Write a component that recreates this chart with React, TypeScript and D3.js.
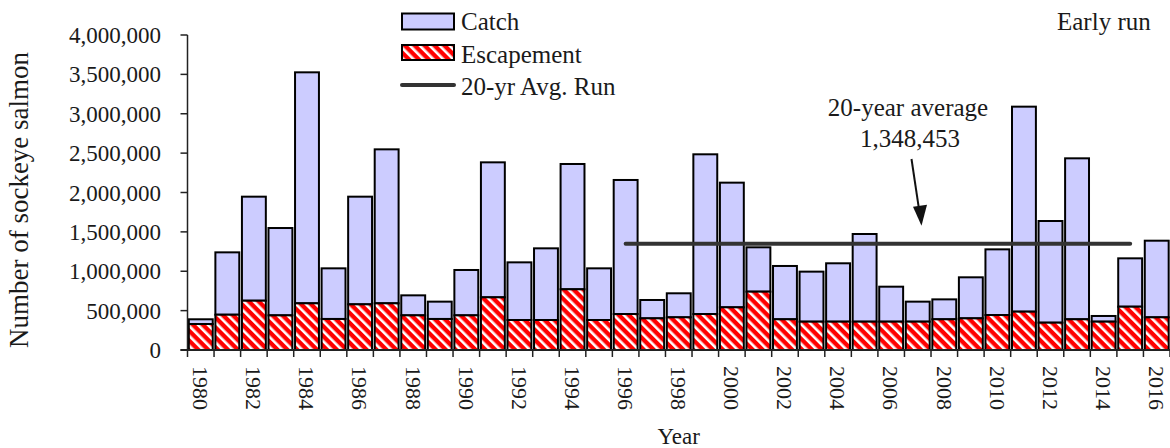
// ─── SockeyeRunChart ──────────────────────────────────────────────────────────
//
// Stacked bars of early-run sockeye escapement + catch, 1980–2016, with the
// 20-year average run drawn across 1996–2015. D3 does scales + drawing.

import { useRef, useEffect } from "react";
import * as d3 from "d3";

const years = d3.range(1980, 2017);

// values (fish counts)
const escapement = [
  330000, 448000, 626000, 440000, 593000, 394000, 580000, 593000, 440000, 394000,
  440000, 669000, 381000, 381000, 771000, 381000, 457000, 402000, 415000, 457000,
  542000, 741000, 390000, 360000, 360000, 360000, 360000, 360000, 390000, 402000,
  444000, 487000, 347000, 390000, 360000, 550000, 415000,
];

const catchValues = [
  60000, 792000, 1321000, 1109000, 2933000, 643000, 1367000, 1955000, 254000, 220000,
  576000, 1714000, 732000, 910000, 1591000, 656000, 1702000, 233000, 305000, 2028000,
  1583000, 563000, 677000, 635000, 741000, 1113000, 444000, 254000, 253000, 521000,
  834000, 2603000, 1291000, 2044000, 72000, 614000, 973000,
];

const yTicks = [0, 500000, 1000000, 1500000, 2000000, 2500000, 3000000, 3500000, 4000000];
const xTickYears = years.filter((y) => y % 2 === 0);

const avgRun = 1348453;
const avgYears = [1996, 2015];

const W = 1170;
const H = 448;
const PLOT = { left: 187.5, right: 1170, top: 35, bottom: 350 };
const FONT = "'Liberation Serif', 'Times New Roman', serif";
const TEXT = "#1a1a1a";

export default function App() {
  const svgRef = useRef<SVGSVGElement>(null);

  useEffect(() => {
    if (!svgRef.current) return;
    const svg = d3.select(svgRef.current);
    svg.selectAll("*").remove();

    // ── Scales ──────────────────────────────────────────────────────────────

    const x = d3
      .scaleBand<number>()
      .domain(years)
      .range([PLOT.left, PLOT.right])
      .paddingInner(0.1)
      .paddingOuter(0.05);

    const y = d3.scaleLinear().domain([0, 4000000]).range([PLOT.bottom, PLOT.top]);

    const step = x.step();
    const bw = x.bandwidth();

    // ── Hatch pattern ─────────────────────────────────────────────────────

    const defs = svg.append("defs");
    const pat = defs
      .append("pattern")
      .attr("id", "hatch")
      .attr("patternUnits", "userSpaceOnUse")
      .attr("width", 7)
      .attr("height", 7)
      .attr("patternTransform", "rotate(-45)");
    pat.append("rect").attr("width", 7).attr("height", 7).attr("fill", "#ff0000");
    pat.append("rect").attr("x", 0).attr("width", 2.6).attr("height", 7).attr("fill", "#ffffff");

    // ── Bars ──────────────────────────────────────────────────────────────

    const rows = years.map((yr, i) => ({
      year: yr,
      esc: escapement[i],
      total: escapement[i] + catchValues[i],
    }));

    svg
      .append("g")
      .selectAll("rect")
      .data(rows)
      .enter()
      .append("rect")
      .attr("x", (d) => x(d.year)!)
      .attr("y", (d) => y(d.total))
      .attr("width", bw)
      .attr("height", (d) => y(d.esc) - y(d.total))
      .attr("fill", "#ccccff")
      .attr("stroke", "#000")
      .attr("stroke-width", 2);

    svg
      .append("g")
      .selectAll("rect")
      .data(rows)
      .enter()
      .append("rect")
      .attr("x", (d) => x(d.year)!)
      .attr("y", (d) => y(d.esc))
      .attr("width", bw)
      .attr("height", (d) => y(0) - y(d.esc))
      .attr("fill", "url(#hatch)")
      .attr("stroke", "#000")
      .attr("stroke-width", 2);

    // ── 20-year average line ──────────────────────────────────────────────

    svg
      .append("line")
      .attr("x1", x(avgYears[0])! + bw / 2)
      .attr("x2", x(avgYears[1])! + bw / 2)
      .attr("y1", y(avgRun))
      .attr("y2", y(avgRun))
      .attr("stroke", "#333")
      .attr("stroke-width", 4)
      .attr("stroke-linecap", "round");

    // ── Axes ──────────────────────────────────────────────────────────────

    const axis = svg.append("g").attr("stroke", "#222");
    axis
      .append("line")
      .attr("x1", PLOT.left)
      .attr("x2", PLOT.left)
      .attr("y1", y(4000000))
      .attr("y2", y(0))
      .attr("stroke-width", 1.5);
    axis
      .append("line")
      .attr("x1", PLOT.left - 7)
      .attr("x2", PLOT.right)
      .attr("y1", y(0))
      .attr("y2", y(0))
      .attr("stroke-width", 2);

    axis
      .selectAll(".ytick")
      .data(yTicks)
      .enter()
      .append("line")
      .attr("x1", PLOT.left - 7)
      .attr("x2", PLOT.left)
      .attr("y1", (d) => y(d))
      .attr("y2", (d) => y(d))
      .attr("stroke-width", 1.5);

    // tick marks at every band boundary
    axis
      .selectAll(".xtick")
      .data(years.concat([2017]))
      .enter()
      .append("line")
      .attr("x1", (_, i) => PLOT.left + i * step)
      .attr("x2", (_, i) => PLOT.left + i * step)
      .attr("y1", y(0))
      .attr("y2", y(0) + 7)
      .attr("stroke-width", 1.5);

    const txt = svg.append("g").attr("font-family", FONT).attr("fill", TEXT);

    txt
      .selectAll(".ylab")
      .data(yTicks)
      .enter()
      .append("text")
      .attr("x", 161)
      .attr("y", (d) => y(d))
      .attr("dy", "0.35em")
      .attr("text-anchor", "end")
      .attr("font-size", 23)
      .text((d) => d3.format(",")(d));

    txt
      .selectAll(".xlab")
      .data(xTickYears)
      .enter()
      .append("text")
      .attr("transform", (d) => `translate(${x(d)! + bw / 2},${y(0) + 16}) rotate(90)`)
      .attr("dy", "0.35em")
      .attr("text-anchor", "start")
      .attr("font-size", 22)
      .text((d) => String(d));

    // ── Axis titles ───────────────────────────────────────────────────────

    txt
      .append("text")
      .attr("transform", `translate(28,200) rotate(-90)`)
      .attr("text-anchor", "middle")
      .attr("font-size", 27)
      .text("Number of sockeye salmon");

    txt
      .append("text")
      .attr("x", (PLOT.left + PLOT.right) / 2)
      .attr("y", 444)
      .attr("text-anchor", "middle")
      .attr("font-size", 23)
      .text("Year");

    // ── Annotations ───────────────────────────────────────────────────────

    txt
      .append("text")
      .attr("x", 1057)
      .attr("y", 30)
      .attr("font-size", 25)
      .text("Early run");

    txt
      .append("text")
      .attr("x", 908)
      .attr("y", 116)
      .attr("text-anchor", "middle")
      .attr("font-size", 25)
      .text("20-year average");
    txt
      .append("text")
      .attr("x", 910)
      .attr("y", 147)
      .attr("text-anchor", "middle")
      .attr("font-size", 25)
      .text(d3.format(",")(avgRun));

    const tipX = 921.5;
    const tipY = y(avgRun) - 18;
    svg
      .append("line")
      .attr("x1", 911.5)
      .attr("y1", 159)
      .attr("x2", tipX - 1.8)
      .attr("y2", tipY - 12)
      .attr("stroke", "#111")
      .attr("stroke-width", 2);
    svg
      .append("path")
      .attr("d", `M${tipX},${tipY} L${tipX - 8.5},${tipY - 19} L${tipX + 5.5},${tipY - 21} Z`)
      .attr("fill", "#111");

    // ── Legend ────────────────────────────────────────────────────────────

    const lg = svg.append("g").attr("transform", "translate(402,0)");
    lg.append("rect")
      .attr("x", 0)
      .attr("y", 13.5)
      .attr("width", 52)
      .attr("height", 16)
      .attr("fill", "#ccccff")
      .attr("stroke", "#000")
      .attr("stroke-width", 2);
    lg.append("rect")
      .attr("x", 0)
      .attr("y", 45)
      .attr("width", 52)
      .attr("height", 15)
      .attr("fill", "url(#hatch)")
      .attr("stroke", "#000")
      .attr("stroke-width", 2);
    lg.append("line")
      .attr("x1", 0)
      .attr("x2", 52)
      .attr("y1", 85)
      .attr("y2", 85)
      .attr("stroke", "#333")
      .attr("stroke-width", 4)
      .attr("stroke-linecap", "round");

    const lgText = ["Catch", "Escapement", "20-yr Avg. Run"];
    lg.selectAll("text")
      .data(lgText)
      .enter()
      .append("text")
      .attr("x", 59)
      .attr("y", (_, i) => 30 + i * 32.5)
      .attr("font-family", FONT)
      .attr("font-size", 25)
      .attr("fill", TEXT)
      .text((d) => d);
  }, []);

  return (
    <svg
      ref={svgRef}
      width={W}
      height={H}
      style={{ position: "absolute", left: 0, top: 0, background: "#fff" }}
    />
  );
}
